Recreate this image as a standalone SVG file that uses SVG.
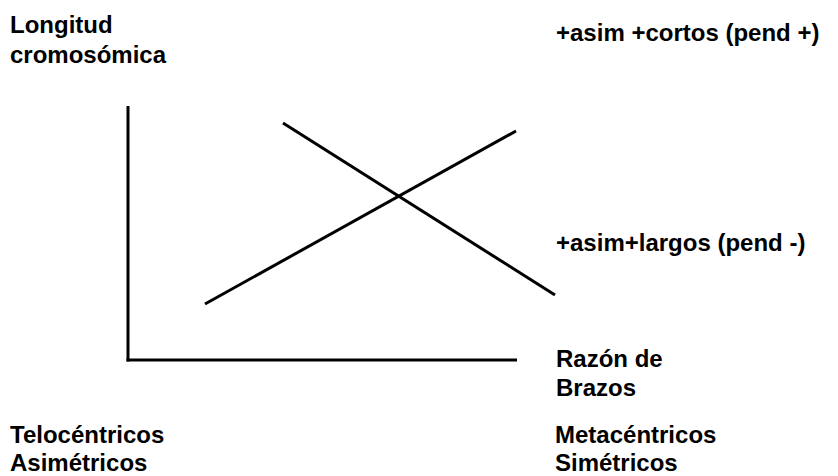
<svg xmlns="http://www.w3.org/2000/svg" width="838" height="476" viewBox="0 0 838 476">
<style>
text{font-family:"Liberation Sans",Arial,sans-serif;font-weight:bold;font-size:24px;fill:#000}
.ln{stroke:#000;stroke-width:3;fill:none;stroke-linecap:butt}
</style>
<rect width="838" height="476" fill="#fff"/>
<g id="axes">
<line class="ln" x1="128" y1="106" x2="128" y2="361.5"/>
<line class="ln" x1="126.5" y1="360" x2="517" y2="360"/>
</g>
<g id="connectors">
<line class="ln" x1="205" y1="304" x2="516" y2="131"/>
<line class="ln" x1="283" y1="123" x2="555" y2="295"/>
</g>
<g id="label-y"><text x="10" y="33">Longitud</text><text x="10" y="63">cromosómica</text></g>
<g id="label-pos"><text x="556" y="41">+asim +cortos (pend +)</text></g>
<g id="label-neg"><text x="556" y="251">+asim+largos (pend -)</text></g>
<g id="label-x"><text x="556" y="367">Razón de</text><text x="556" y="396">Brazos</text></g>
<g id="label-telo"><text x="10" y="443">Telocéntricos</text><text x="10" y="471">Asimétricos</text></g>
<g id="label-meta"><text x="555" y="443">Metacéntricos</text><text x="555" y="471">Simétricos</text></g>
</svg>
